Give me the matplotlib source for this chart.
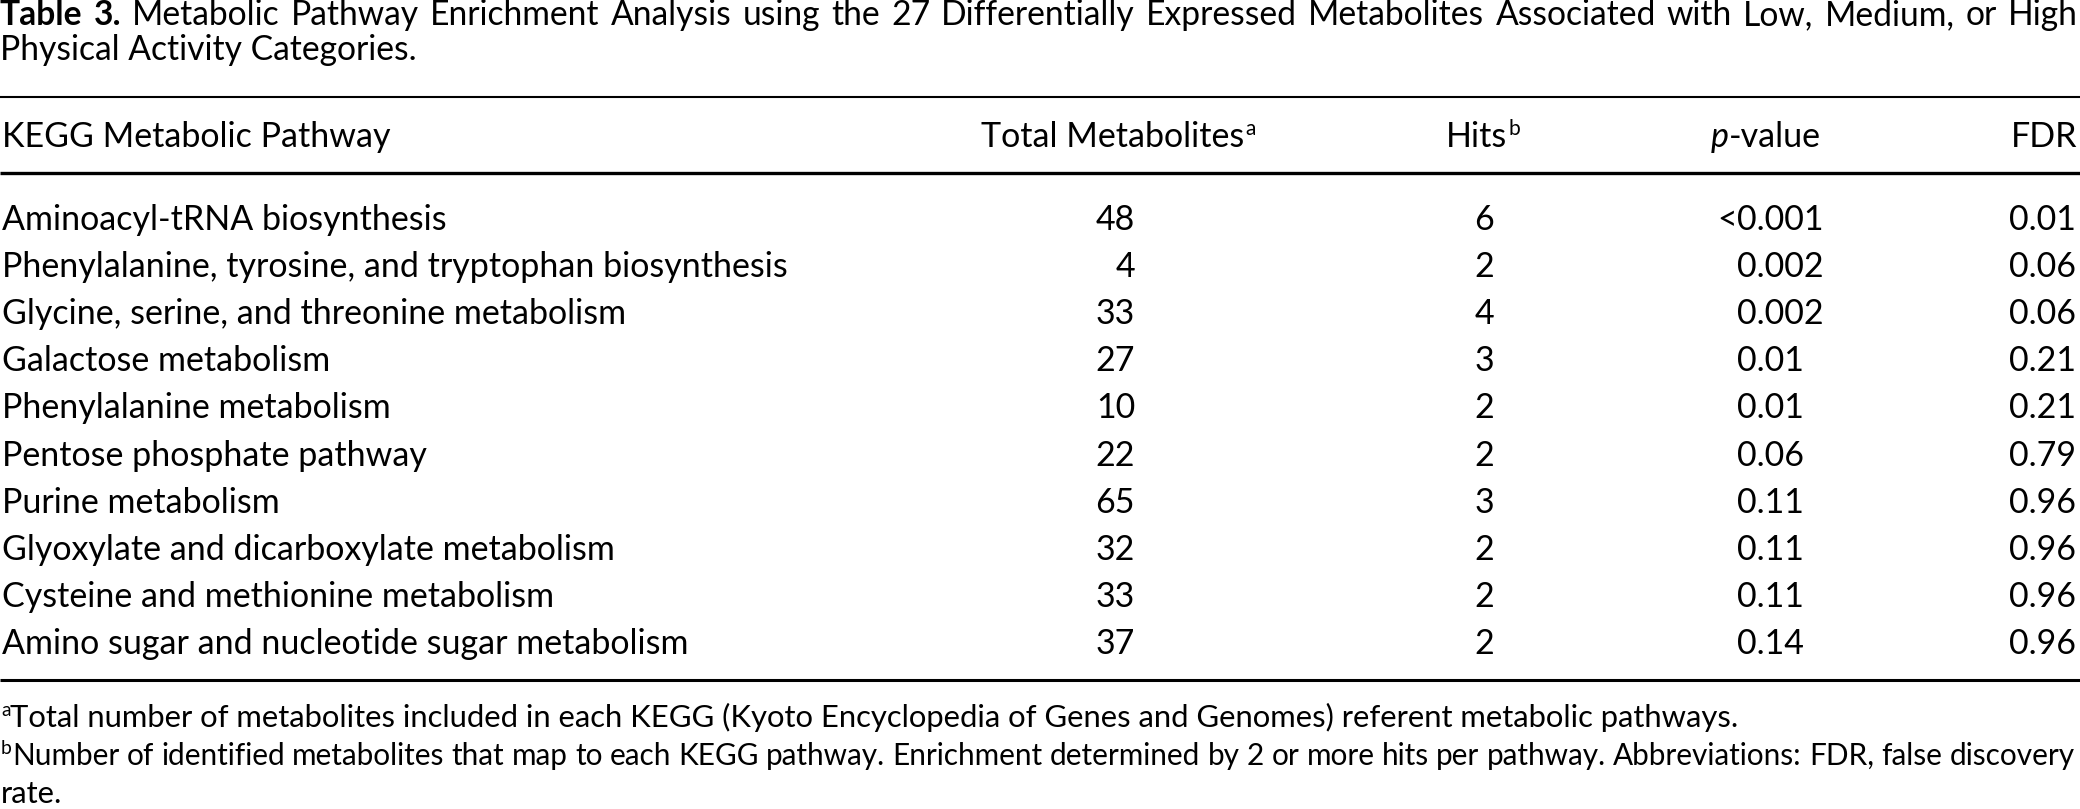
import matplotlib
matplotlib.use('Agg')
import matplotlib.pyplot as plt

W, H = 2080, 809
FONT = 'Lato'

# ---------------- data ----------------
title_bold = "Table 3."
title_line1 = ("Metabolic Pathway Enrichment Analysis using the 27 Differentially Expressed "
               "Metabolites Associated with Low, Medium, or High")
title_line2 = "Physical Activity Categories."

col_headers = ["KEGG Metabolic Pathway", "Total Metabolites", "Hits", "-value", "FDR"]
header_sup = ["", "a", "b", "", ""]

pathways = [
    "Aminoacyl-tRNA biosynthesis",
    "Phenylalanine, tyrosine, and tryptophan biosynthesis",
    "Glycine, serine, and threonine metabolism",
    "Galactose metabolism",
    "Phenylalanine metabolism",
    "Pentose phosphate pathway",
    "Purine metabolism",
    "Glyoxylate and dicarboxylate metabolism",
    "Cysteine and methionine metabolism",
    "Amino sugar and nucleotide sugar metabolism",
]
total_metabolites = [48, 4, 33, 27, 10, 22, 65, 32, 33, 37]
hits = [6, 2, 4, 3, 2, 2, 3, 2, 2, 2]
p_values = ["<0.001", "0.002", "0.002", "0.01", "0.01", "0.06", "0.11", "0.11", "0.11", "0.14"]
fdr = ["0.01", "0.06", "0.06", "0.21", "0.21", "0.79", "0.96", "0.96", "0.96", "0.96"]

footnote_a = ("Total number of metabolites included in each KEGG (Kyoto Encyclopedia of Genes "
              "and Genomes) referent metabolic pathways.")
footnote_b1 = ("Number of identified metabolites that map to each KEGG pathway. Enrichment "
               "determined by 2 or more hits per pathway. Abbreviations: FDR, false discovery")
footnote_b2 = "rate."

# ---------------- figure ----------------
fig = plt.figure(figsize=(W / 100, H / 100), dpi=100)
ax = fig.add_axes([0, 0, 1, 1])
ax.set_xlim(0, W)
ax.set_ylim(H, 0)
ax.axis('off')
renderer = fig.canvas.get_renderer()


def tw(s, size, weight='normal', style='normal'):
    t = ax.text(0, 0, s, fontsize=size, family=FONT, weight=weight, style=style)
    w = t.get_window_extent(renderer).width
    t.remove()
    return w


def put(x, y, s, size, ha='left', weight='normal', style='normal'):
    return ax.text(x, y, s, fontsize=size, family=FONT, weight=weight, style=style,
                   ha=ha, va='baseline', color='black')


def justify(words, x0, x1, y, size):
    widths = [tw(w, size, weight=wt) for w, wt in words]
    gap = (x1 - x0 - sum(widths)) / (len(words) - 1)
    x = x0
    for (w, wt), wd in zip(words, widths):
        put(x, y, w, size, weight=wt)
        x += wd + gap


# font sizes fitted to reference widths
fs_row = 20 * 787 / tw(pathways[1], 20)
fs_sup = fs_row * 0.62
title_words = [("Table", 'bold'), ("3.", 'bold')] + [(w, 'normal') for w in title_line1.split()]
nat = sum(tw(w, 20, weight=wt) for w, wt in title_words) + tw("a a", 20) - 2 * tw("a", 20)
nat = sum(tw(w, 20, weight=wt) for w, wt in title_words) + (len(title_words) - 1) * 0.25 * 20 * 100 / 72
fs_title = 20 * 2040 / nat
fs_foot = 20 * (1747 - 12) / tw(footnote_a, 20)
sup_raise = fs_row * 100 / 72 * 0.36

# ---------------- title ----------------
justify(title_words, 0, 2078, 25, fs_title)
put(0, 60, title_line2, fs_title)

# ---------------- rules ----------------
ax.plot([0, W], [97, 97], color='black', lw=1.5, solid_capstyle='butt')
ax.plot([0, W], [173, 173], color='black', lw=2.4, solid_capstyle='butt')
ax.plot([0, W], [680, 680], color='black', lw=2.2, solid_capstyle='butt')

# ---------------- header ----------------
yh = 147


def header_with_sup(xc, text, sup):
    w1 = tw(text, fs_row)
    w2 = tw(sup, fs_sup) + 1
    x0 = xc - (w1 + w2) / 2
    put(x0, yh, text, fs_row)
    put(x0 + w1 + 1, yh - sup_raise, sup, fs_sup)


put(2, yh, col_headers[0], fs_row)
header_with_sup(1118, col_headers[1], header_sup[1])
header_with_sup(1483, col_headers[2], header_sup[2])
wp = tw("p", fs_row, style='italic')
wv = tw(col_headers[3], fs_row)
xp0 = 1766 - (wp + wv) / 2
put(xp0, yh, "p", fs_row, style='italic')
put(xp0 + wp, yh, col_headers[3], fs_row)
put(2077, yh, col_headers[4], fs_row, ha='right')

# ---------------- rows ----------------
row0, dy = 230, 47.1
x_tot_right = 1135
x_hits_c = 1484
x_p_dec = 1737
x_fdr_right = 2076
for i in range(len(pathways)):
    yb = row0 + i * dy
    put(2, yb, pathways[i], fs_row)
    put(x_tot_right, yb, str(total_metabolites[i]), fs_row, ha='right')
    put(x_hits_c, yb, str(hits[i]), fs_row, ha='center')
    pv = p_values[i]
    if pv.startswith('<'):
        put(x_p_dec, yb, '<', fs_row, ha='right')
        put(x_p_dec, yb, pv[1:], fs_row)
    else:
        put(x_p_dec, yb, pv, fs_row)
    put(x_fdr_right, yb, fdr[i], fs_row, ha='right')

# ---------------- footnotes ----------------
fsup_foot = fs_foot * 0.62
foot_raise = fs_foot * 100 / 72 * 0.36
ya = 727
put(1, ya - foot_raise, "a", fsup_foot)
xa = 1 + tw("a", fsup_foot)
put(xa, ya, footnote_a, fs_foot)

yb1 = 765
put(1, yb1 - foot_raise, "b", fsup_foot)
xb = 1 + tw("b", fsup_foot)
wb = tw(footnote_b1, fs_foot)
fs_b = fs_foot * min(1.0, (2075 - xb) / wb)
justify([(w, 'normal') for w in footnote_b1.split()], xb, 2075, yb1, fs_b)
put(1, 803, footnote_b2, fs_foot)

fig.savefig('out.png', dpi=100, facecolor='white')
